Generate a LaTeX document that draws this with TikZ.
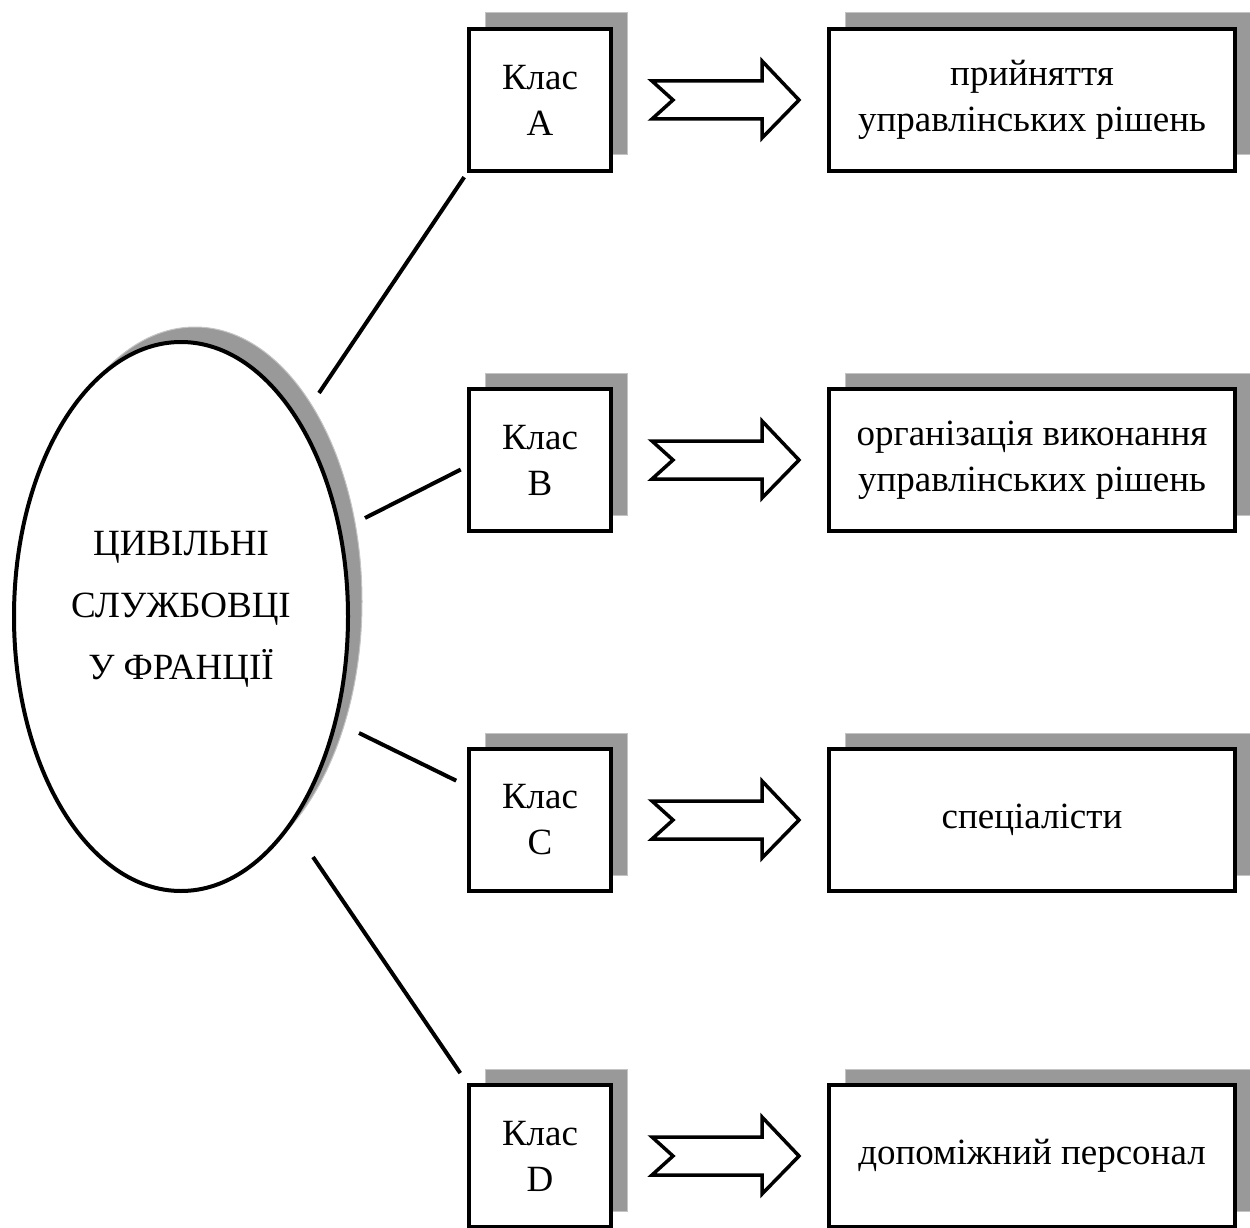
\documentclass[tikz,border=0pt]{standalone}
\usepackage{fontspec}
\setmainfont{Liberation Serif}
\usetikzlibrary{shapes.geometric,shadows,calc}
\definecolor{shade}{HTML}{999999}
\definecolor{shadeedge}{HTML}{C4C4C4}
\begin{document}
\begin{tikzpicture}[x=1pt,y=-1pt,
  txt/.style={font=\fontsize{37}{46}\selectfont, align=center},
  boxshadow/.style={general shadow={fill=shade, draw=shadeedge, line width=1pt,
      shadow xshift=16pt, shadow yshift=16pt}},
  classbox/.style={txt, draw, line width=4pt, fill=white, inner sep=0pt,
      minimum width=142pt, minimum height=142pt, boxshadow},
  resultbox/.style={txt, draw, line width=4pt, fill=white, inner sep=0pt,
      minimum width=406pt, minimum height=142pt, boxshadow},
  link/.style={line width=4pt},
  blockarrow/.pic={
    \draw[line width=3.5pt, fill=white]
      (-73.5,-19) -- (36.5,-19) -- (36.5,-39) -- (73.5,0) -- (36.5,38)
      -- (36.5,19) -- (-73.5,19) -- (-52.5,0) -- cycle;
  }
]
\useasboundingbox (0,0) rectangle (1250,1228);

% central ellipse with its shadow
\node[ellipse, draw, line width=4pt, fill=white, inner sep=0pt,
      minimum width=334pt, minimum height=549pt,
      general shadow={fill=shade, draw=shadeedge, line width=1pt,
        shadow xshift=14pt, shadow yshift=15pt}] (ell) at (181,616.5) {};
\node[font=\rmfamily\fontsize{37}{62}\selectfont, align=center] (title)
  at ($(ell.center)+(0,-7)$) {ЦИВІЛЬНІ\\СЛУЖБОВЦІ\\У ФРАНЦІЇ};

% class boxes
\node[classbox] (kA) at (540,100)  {Клас\\A};
\node[classbox] (kB) at (540,460)  {Клас\\B};
\node[classbox] (kC) at (540,820)  {Клас\\C};
\node[classbox] (kD) at (540,1156) {Клас\\D};

% result boxes
\node[resultbox] (rA) at (1032,100)  {прийняття\\управлінських рішень};
\node[resultbox] (rB) at (1032,460)  {організація виконання\\управлінських рішень};
\node[resultbox] (rC) at (1032,820)  {спеціалісти};
\node[resultbox] (rD) at (1032,1156) {допоміжний персонал};

% block arrows between class and result
\foreach \k in {A,B,C,D}
  \pic at ($(k\k.east)!0.5!(r\k.west)+(5.5,0)$) {blockarrow};

% connectors from the ellipse
\coordinate (sA) at (319,393);
\coordinate (sB) at (365,518);
\coordinate (sC) at (359,733);
\coordinate (sD) at (313,857);
\draw[link, shorten >=5pt]  (sA) -- (kA.south west);
\draw[link, shorten >=7pt]  (sB) -- (kB.185);
\draw[link, shorten >=12pt] (sC) -- (kC.155);
\draw[link, shorten >=12pt] (sD) -- (kD.north west);
\end{tikzpicture}
\end{document}
